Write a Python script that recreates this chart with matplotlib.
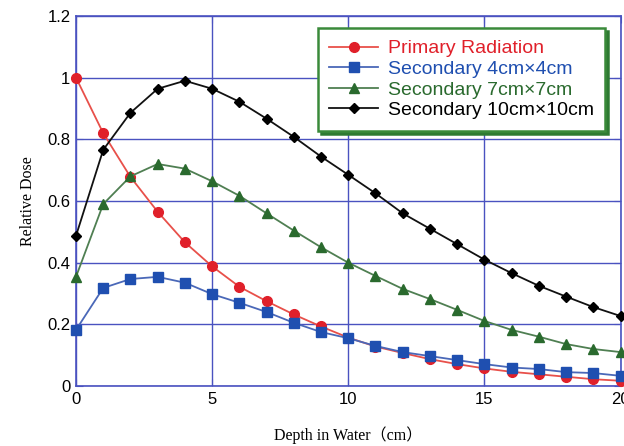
import matplotlib
matplotlib.use("Agg")
import matplotlib.pyplot as plt

depth = list(range(0, 21))
primary = [1.0, 0.82, 0.678, 0.565, 0.466, 0.388, 0.322, 0.275, 0.232, 0.193, 0.157,
           0.128, 0.107, 0.087, 0.071, 0.057, 0.046, 0.038, 0.030, 0.022, 0.017]
sec4 = [0.182, 0.318, 0.347, 0.354, 0.335, 0.298, 0.270, 0.240, 0.205, 0.175, 0.155,
        0.130, 0.110, 0.097, 0.084, 0.071, 0.060, 0.055, 0.045, 0.042, 0.033]
sec7 = [0.354, 0.59, 0.68, 0.72, 0.705, 0.664, 0.617, 0.56, 0.504, 0.45, 0.40,
        0.357, 0.315, 0.282, 0.247, 0.211, 0.182, 0.16, 0.136, 0.12, 0.11]
sec10 = [0.487, 0.766, 0.886, 0.964, 0.99, 0.964, 0.922, 0.867, 0.808, 0.744, 0.685,
         0.625, 0.56, 0.51, 0.46, 0.41, 0.366, 0.325, 0.29, 0.256, 0.227]
labels = ["Primary Radiation", "Secondary 4cm×4cm", "Secondary 7cm×7cm", "Secondary 10cm×10cm"]
xticks = [0, 5, 10, 15, 20]
yticks = [0, 0.2, 0.4, 0.6, 0.8, 1.0, 1.2]
yticklabels = ["0", "0.2", "0.4", "0.6", "0.8", "1", "1.2"]

fig = plt.figure(figsize=(6.24, 4.46), dpi=100)
ax = fig.add_axes([76/624, 1-386/446, 544.5/624, 370/446])

grid_c = "#4a52c0"
ax.set_xlim(0, 20)
ax.set_ylim(0, 1.2)
ax.set_xticks(xticks)
ax.set_yticks(yticks)
ax.set_yticklabels(yticklabels)
ax.grid(True, color=grid_c, linewidth=1.0)
ax.set_axisbelow(True)
for s in ax.spines.values():
    s.set_color(grid_c)
    s.set_linewidth(1.2)
ax.tick_params(direction="in", color=grid_c, length=5, labelsize=12, pad=4,
               right=True, top=True)
for t in ax.get_xticklabels() + ax.get_yticklabels():
    t.set_fontfamily("Liberation Sans")

styles = [
    (primary, "#e0202a", "#e8504a", "o", 7),
    (sec4, "#1f4fb0", "#4a68b8", "s", 7),
    (sec7, "#2a6a2e", "#4f7f52", "^", 7),
    (sec10, "#000000", "#111111", "D", 5.5),
]
for (vals, mc, lc, mk, ms), lab in zip(styles, labels):
    ax.plot(depth, vals, color=lc, linewidth=1.3, marker=mk, markersize=ms,
            markerfacecolor=mc, markeredgecolor=mc, label=lab, clip_on=False, zorder=3)

leg = ax.legend(loc="upper left", bbox_to_anchor=(0.444, 0.967), borderaxespad=0,
                fancybox=False, framealpha=1, edgecolor="#3a8a3a",
                shadow={"color": "#2e7a32", "alpha": 1.0},
                prop={"family": "Liberation Sans", "size": 14},
                handlelength=2.5, labelspacing=0.15, borderpad=0.6, handletextpad=0.5)
leg.get_frame().set_linewidth(1.8)
for t, (vals, mc, lc, mk, ms) in zip(leg.get_texts(), styles):
    t.set_color(mc)

ax.set_ylabel("Relative Dose", family=["Liberation Serif", "Noto Sans CJK JP"], fontsize=11.5, labelpad=8)
ax.set_xlabel("Depth in Water（cm）", family=["Liberation Serif", "Noto Sans CJK JP"], fontsize=11.5, labelpad=14)

fig.savefig("out.png", dpi=100)
